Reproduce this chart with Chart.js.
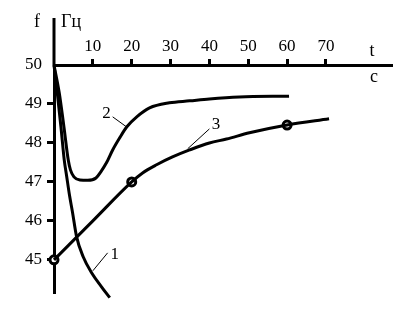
<!DOCTYPE html>
<html>
<head>
<meta charset="utf-8">
<script src="https://cdn.jsdelivr.net/npm/chart.js@4.4.1/dist/chart.umd.min.js"></script>
<style>
html, body { margin: 0; padding: 0; background: #fff; }
#wrap { width: 399px; height: 309px; }
</style>
</head>
<body>
<div id="wrap"><canvas id="chart" width="399" height="309"></canvas></div>
<script>
// --- data (t in s, f in Hz) ---
const tTicks = [10, 20, 30, 40, 50, 60, 70];
const fTicks = [45, 46, 47, 48, 49, 50];

const curve1T = [0, 0.85, 1.79, 2.64, 3.21, 3.97, 4.75, 5.82, 7.51, 9.67, 12.23, 14.36];
const curve1F = [50, 49.28, 48.41, 47.56, 47.18, 46.67, 46.23, 45.59, 45.08, 44.67, 44.31, 44.03];

const curve2T = [0, 1.36, 2.56, 3.67, 4.23, 5.13, 6.67, 8.7, 10.8, 12.05, 13.5, 15.1, 16.9, 18.7, 21.3, 24.6, 29.7, 34.9, 40, 47.7, 60.5];
const curve2F = [50, 49.28, 48.41, 47.56, 47.31, 47.13, 47.05, 47.04, 47.1, 47.26, 47.49, 47.82, 48.13, 48.41, 48.67, 48.9, 49.03, 49.08, 49.13, 49.18, 49.2];

const curve3T = [0, 10, 20, 22.8, 26.4, 30.5, 34.9, 40, 44.4, 50.3, 60, 70.8];
const curve3F = [45, 46, 47, 47.23, 47.44, 47.64, 47.82, 48, 48.1, 48.26, 48.46, 48.62];

const markT = [0, 20, 60];
const markF = [45, 47, 48.46];

const toPts = (xs, ys) => xs.map((v, i) => ({ x: v, y: ys[i] }));

const SERIF = '"Liberation Serif", "Times New Roman", serif';

// --- labels 1/2/3, leader lines and axis names ---
const annotations = {
    id: 'annotations',
    afterDraw(chart) {
        const { ctx, chartArea, scales: { x, y } } = chart;
        ctx.save();
        ctx.strokeStyle = '#000';

        // f axis runs on above the t axis
        ctx.lineWidth = 3;
        ctx.beginPath();
        ctx.moveTo(chartArea.left, 18);
        ctx.lineTo(chartArea.left, chartArea.top);
        ctx.stroke();

        const tags = [
            { text: '1', at: [15.64, 45.13], from: [13.8, 45.18], to: [10, 44.72] },
            { text: '2', at: [13.5, 48.76], from: [15.1, 48.67], to: [18.7, 48.41] },
            { text: '3', at: [41.7, 48.46], from: [40, 48.36], to: [34.4, 47.85] }
        ];
        ctx.lineWidth = 1;
        ctx.fillStyle = '#000';
        ctx.font = '17px ' + SERIF;
        ctx.textAlign = 'center';
        ctx.textBaseline = 'middle';
        tags.forEach(tg => {
            ctx.beginPath();
            ctx.moveTo(x.getPixelForValue(tg.from[0]), y.getPixelForValue(tg.from[1]));
            ctx.lineTo(x.getPixelForValue(tg.to[0]), y.getPixelForValue(tg.to[1]));
            ctx.stroke();
            ctx.fillText(tg.text, x.getPixelForValue(tg.at[0]), y.getPixelForValue(tg.at[1]));
        });

        // axis names
        ctx.textBaseline = 'alphabetic';
        ctx.font = '18px ' + SERIF;
        ctx.fillText('f', chartArea.left - 17, 27);
        ctx.textAlign = 'left';
        ctx.fillText('Гц', chartArea.left + 7, 27);
        ctx.textAlign = 'center';
        ctx.fillText('t', chartArea.right - 20, 56);
        ctx.fillText('c', chartArea.right - 18, 82);
        ctx.restore();
    }
};

const lineStyle = {
    showLine: true,
    borderColor: '#000',
    borderWidth: 3,
    pointRadius: 0,
    cubicInterpolationMode: 'monotone',
    clip: false
};

new Chart(document.getElementById('chart').getContext('2d'), {
    type: 'scatter',
    data: {
        datasets: [
            { ...lineStyle, data: toPts(curve1T, curve1F) },
            { ...lineStyle, data: toPts(curve2T, curve2F) },
            { ...lineStyle, data: toPts(curve3T, curve3F) },
            {
                data: toPts(markT, markF),
                showLine: false,
                pointRadius: 4,
                pointBorderWidth: 3,
                pointBorderColor: '#000',
                pointBackgroundColor: '#fff',
                clip: false
            }
        ]
    },
    options: {
        responsive: false,
        animation: false,
        layout: { padding: { left: 0, top: 0, right: 6, bottom: 16 } },
        plugins: { legend: { display: false }, tooltip: { enabled: false } },
        scales: {
            x: {
                type: 'linear',
                position: 'top',
                min: 0,
                max: 87,
                afterBuildTicks: s => { s.ticks = tTicks.map(v => ({ value: v })); },
                afterFit: s => { s.height = 65; },
                grid: { drawOnChartArea: false, tickLength: 6, tickWidth: 3, tickColor: '#000' },
                border: { display: true, color: '#000', width: 3 },
                ticks: { color: '#000', padding: 2, maxRotation: 0, font: { family: SERIF, size: 17 } }
            },
            y: {
                type: 'linear',
                position: 'left',
                min: 44.15,
                max: 50,
                afterBuildTicks: s => { s.ticks = fTicks.map(v => ({ value: v })); },
                afterFit: s => { s.width = 54; },
                grid: {
                    drawOnChartArea: false, tickLength: 7, tickWidth: 3,
                    tickColor: c => (c.tick && c.tick.value === 50) ? 'rgba(0,0,0,0)' : '#000'
                },
                border: { display: true, color: '#000', width: 3 },
                ticks: { color: '#000', padding: 5, font: { family: SERIF, size: 17 } }
            }
        }
    },
    plugins: [annotations]
});
</script>
</body>
</html>
